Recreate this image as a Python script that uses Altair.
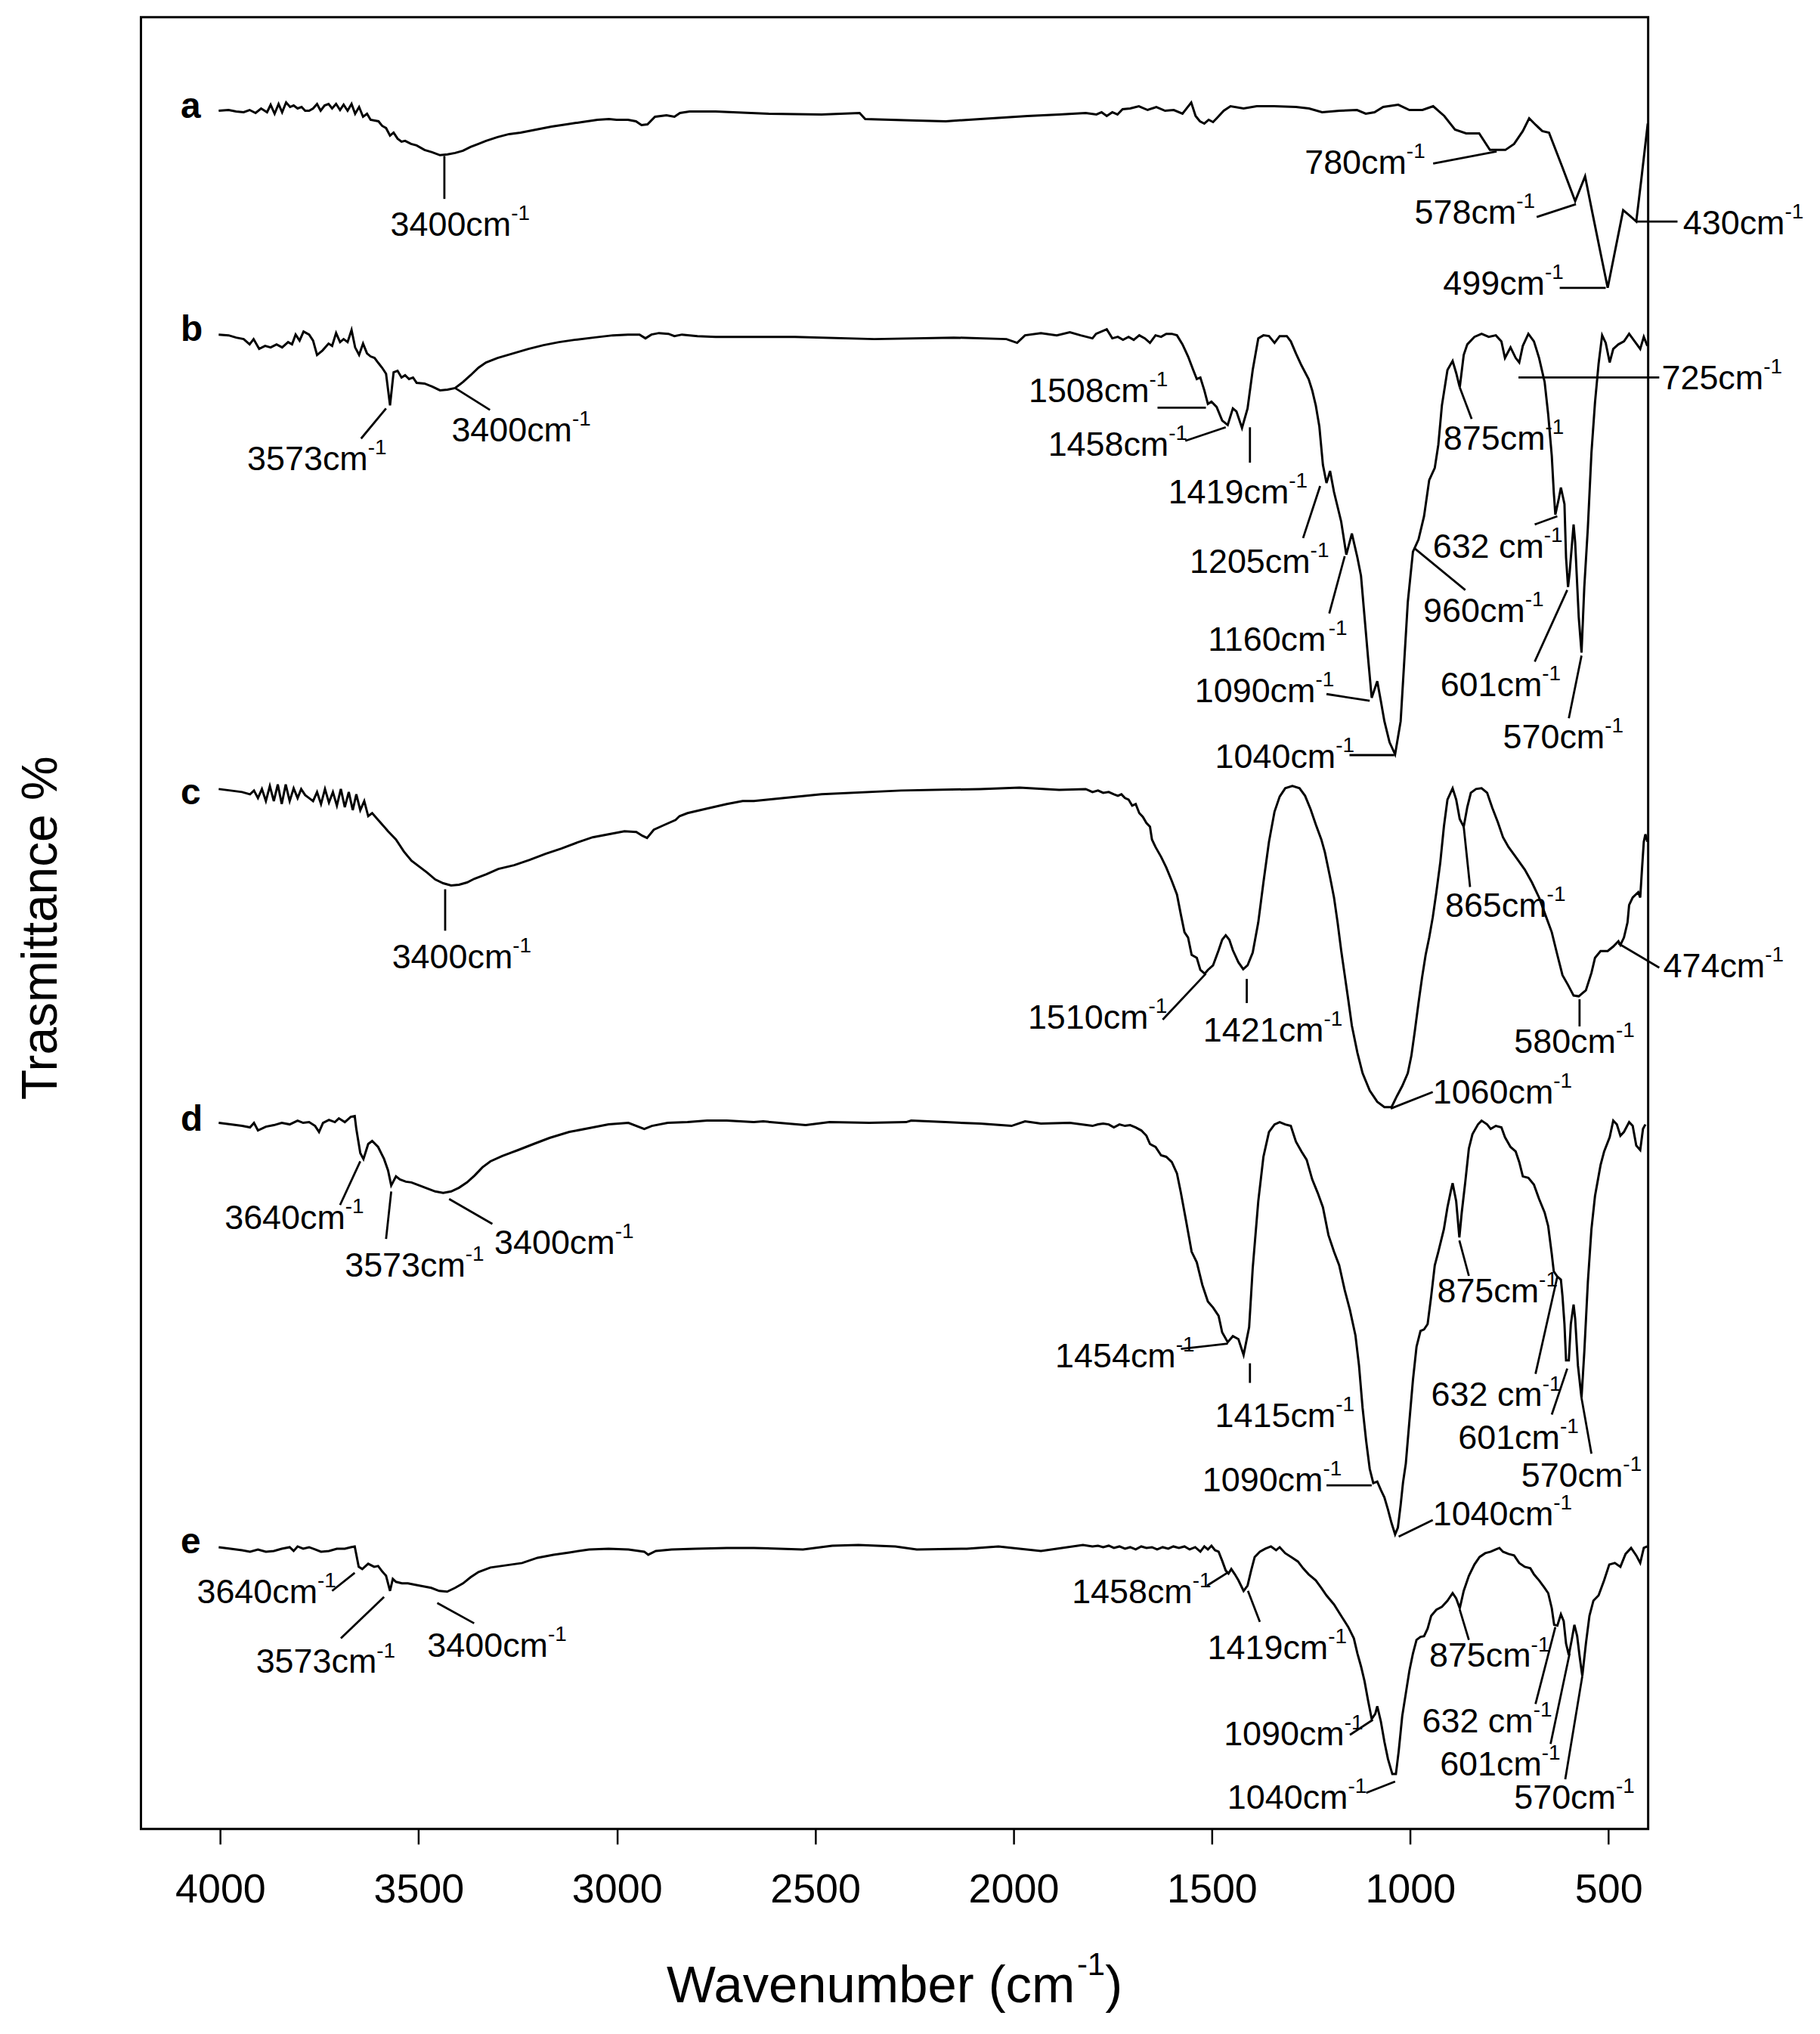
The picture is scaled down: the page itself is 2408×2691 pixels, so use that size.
import altair as alt
import pandas as pd

FONT = "Liberation Sans"

# wavenumber (cm-1), transmittance (arbitrary offset units)
SPEC_A = [(4004,2280),(3979,2281),(3960,2279),(3941,2278),(3926,2281),(3911,2277),(3897,2283),(3882,2278),(3873,2288),(3863,2276),(3853,2289),(3844,2278),(3834,2291),(3824,2285),(3815,2287),(3805,2283),(3795,2285),(3786,2280),(3776,2280),(3766,2283),(3756,2289),(3747,2280),(3737,2287),(3727,2289),(3718,2283),(3708,2289),(3698,2281),(3689,2288),(3679,2280),(3669,2289),(3660,2276),(3650,2285),(3640,2272),(3630,2276),(3621,2268),(3601,2266),(3592,2260),(3582,2257),(3572,2247),(3563,2251),(3553,2243),(3543,2239),(3534,2240),(3519,2236),(3505,2234),(3485,2228),(3466,2225),(3446,2221),(3427,2222),(3408,2224),(3388,2227),(3369,2232),(3349,2236),(3330,2240),(3301,2245),(3272,2249),(3243,2251),(3204,2255),(3165,2259),(3127,2262),(3088,2265),(3049,2268),(3020,2269),(3001,2268),(2972,2268),(2952,2266),(2938,2261),(2923,2262),(2904,2272),(2875,2274),(2855,2272),(2841,2277),(2817,2279),(2778,2279),(2751,2279),(2617,2276),(2484,2275),(2388,2277),(2374,2269),(2244,2267),(2171,2266),(2084,2269),(1965,2273),(1885,2275),(1818,2277),(1791,2275),(1778,2278),(1765,2273),(1751,2278),(1738,2275),(1725,2282),(1706,2283),(1684,2286),(1662,2281),(1640,2285),(1618,2280),(1596,2281),(1574,2276),(1552,2291),(1541,2273),(1530,2266),(1519,2263),(1508,2268),(1497,2265),(1486,2271),(1470,2280),(1453,2286),(1420,2283),(1387,2286),(1343,2286),(1288,2285),(1255,2283),(1222,2278),(1178,2280),(1134,2281),(1112,2276),(1090,2278),(1068,2285),(1030,2288),(1002,2281),(969,2281),(942,2286),(914,2273),(887,2255),(859,2250),(826,2250),(799,2228),(760,2228),(738,2236),(716,2253),(700,2270),(683,2261),(667,2253),(650,2251),(617,2206),(584,2160),(559,2193),(540,2143),(518,2086),(502,2045),(485,2090),(463,2148),(447,2141),(430,2133),(417,2190),(401,2263)]

SPEC_B = [(4004,1983),(3979,1982),(3960,1979),(3941,1977),(3926,1970),(3916,1977),(3902,1964),(3887,1968),(3873,1966),(3858,1970),(3844,1966),(3829,1973),(3819,1970),(3810,1983),(3800,1975),(3790,1987),(3776,1983),(3766,1975),(3756,1956),(3742,1962),(3727,1971),(3718,1968),(3708,1985),(3698,1973),(3689,1977),(3679,1973),(3669,1989),(3660,1966),(3650,1956),(3640,1971),(3630,1958),(3621,1954),(3611,1952),(3601,1945),(3592,1939),(3582,1931),(3572,1889),(3563,1933),(3553,1935),(3543,1926),(3534,1929),(3524,1924),(3514,1926),(3505,1919),(3485,1918),(3466,1914),(3446,1909),(3427,1910),(3408,1912),(3388,1920),(3369,1929),(3349,1939),(3330,1946),(3301,1952),(3262,1958),(3223,1964),(3185,1969),(3146,1973),(3107,1976),(3059,1979),(3010,1982),(2972,1983),(2943,1983),(2928,1978),(2913,1983),(2894,1985),(2870,1984),(2855,1981),(2836,1983),(2797,1981),(2751,1980),(2551,1980),(2351,1977),(2151,1979),(2018,1977),(1991,1972),(1971,1982),(1931,1985),(1891,1982),(1858,1986),(1831,1982),(1801,1978),(1792,1984),(1765,1990),(1751,1978),(1737,1980),(1724,1976),(1710,1980),(1697,1976),(1683,1982),(1669,1978),(1656,1972),(1642,1982),(1628,1980),(1615,1984),(1601,1984),(1588,1982),(1574,1970),(1560,1954),(1547,1936),(1538,1924),(1529,1926),(1519,1909),(1510,1891),(1501,1894),(1488,1887),(1474,1869),(1460,1863),(1447,1885),(1438,1881),(1424,1859),(1410,1885),(1397,1936),(1383,1978),(1370,1982),(1356,1981),(1342,1972),(1329,1981),(1311,1981),(1301,1974),(1288,1958),(1274,1942),(1256,1924),(1247,1909),(1238,1889),(1229,1861),(1220,1810),(1211,1786),(1202,1802),(1192,1774),(1174,1735),(1161,1691),(1147,1719),(1133,1687),(1124,1663),(1115,1608),(1106,1553),(1097,1501),(1083,1523),(1074,1497),(1065,1470),(1052,1442),(1038,1426),(1024,1470),(1015,1549),(1006,1628),(993,1695),(979,1711),(965,1742),(952,1790),(938,1806),(929,1837),(920,1889),(906,1936),(893,1948),(884,1932),(875,1913),(865,1956),(856,1970),(838,1980),(820,1984),(802,1980),(784,1982),(770,1974),(761,1952),(747,1966),(734,1952),(725,1946),(716,1968),(702,1984),(688,1974),(675,1952),(661,1920),(652,1877),(643,1822),(638,1774),(634,1744),(625,1766),(620,1780),(611,1758),(607,1687),(602,1648),(598,1667),(588,1731),(584,1707),(575,1608),(568,1561),(561,1648),(552,1727),(543,1826),(534,1893),(525,1944),(516,1982),(507,1972),(497,1946),(488,1964),(475,1970),(461,1974),(448,1984),(434,1974),(420,1964),(411,1980),(402,1968)]

SPEC_C = [(4004,1380),(3974,1378),(3945,1376),(3925,1373),(3915,1378),(3905,1368),(3895,1380),(3885,1364),(3875,1384),(3865,1364),(3855,1386),(3845,1360),(3835,1386),(3825,1364),(3815,1381),(3805,1368),(3796,1380),(3786,1372),(3776,1368),(3766,1364),(3756,1376),(3746,1360),(3736,1380),(3726,1362),(3716,1376),(3706,1358),(3696,1380),(3686,1356),(3676,1376),(3666,1352),(3657,1373),(3647,1352),(3637,1364),(3627,1344),(3617,1348),(3597,1336),(3577,1324),(3557,1313),(3537,1297),(3518,1285),(3498,1277),(3478,1269),(3458,1260),(3438,1255),(3418,1252),(3398,1253),(3378,1256),(3359,1261),(3329,1267),(3299,1274),(3259,1279),(3220,1286),(3180,1294),(3140,1301),(3100,1309),(3061,1316),(3021,1320),(2981,1324),(2951,1323),(2936,1318),(2924,1315),(2907,1326),(2882,1332),(2852,1339),(2842,1344),(2822,1348),(2773,1354),(2723,1360),(2683,1364),(2655,1364),(2617,1366),(2484,1373),(2284,1378),(2084,1380),(1985,1382),(1885,1379),(1818,1380),(1801,1376),(1787,1378),(1774,1375),(1760,1376),(1747,1373),(1737,1371),(1728,1373),(1719,1368),(1710,1366),(1701,1358),(1692,1360),(1683,1348),(1674,1343),(1665,1335),(1656,1330),(1651,1313),(1642,1303),(1628,1290),(1615,1276),(1601,1258),(1588,1240),(1578,1213),(1569,1190),(1560,1183),(1551,1160),(1538,1156),(1529,1140),(1518,1135),(1510,1140),(1497,1146),(1483,1166),(1474,1180),(1465,1186),(1456,1180),(1447,1166),(1433,1150),(1421,1141),(1410,1146),(1397,1163),(1383,1203),(1370,1256),(1356,1310),(1342,1350),(1329,1370),(1315,1381),(1297,1384),(1279,1381),(1265,1371),(1251,1353),(1238,1333),(1224,1313),(1215,1296),(1202,1263),(1192,1236),(1183,1203),(1174,1166),(1165,1133),(1156,1100),(1147,1066),(1133,1030),(1120,1003),(1102,980),(1083,965),(1065,958),(1047,958),(1033,973),(1020,986),(1006,1003),(997,1026),(988,1060),(979,1096),(970,1130),(961,1160),(952,1183),(943,1210),(934,1243),(924,1283),(915,1330),(906,1366),(893,1381),(884,1366),(875,1340),(865,1330),(856,1356),(847,1375),(834,1380),(820,1381),(806,1375),(793,1355),(779,1336),(766,1316),(752,1303),(734,1290),(711,1273),(693,1256),(675,1236),(657,1210),(643,1190),(629,1160),(616,1133),(602,1120),(588,1106),(575,1105),(557,1113),(543,1136),(534,1156),(520,1165),(502,1165),(488,1171),(475,1178),(470,1173),(461,1183),(452,1203),(448,1226),(439,1236),(425,1243),(420,1236),(416,1270),(411,1310),(407,1320),(402,1310)]

SPEC_D = [(4004,937),(3974,935),(3945,933),(3925,931),(3915,937),(3905,927),(3885,932),(3865,934),(3845,937),(3825,935),(3805,940),(3791,937),(3776,938),(3761,933),(3751,925),(3741,937),(3726,941),(3711,938),(3701,943),(3686,938),(3671,945),(3661,946),(3657,929),(3647,897),(3639,889),(3627,909),(3617,913),(3602,905),(3587,889),(3577,874),(3569,854),(3557,866),(3547,862),(3532,859),(3518,858),(3498,854),(3478,850),(3458,846),(3438,844),(3418,846),(3398,851),(3378,858),(3359,867),(3339,878),(3319,886),(3289,893),(3249,901),(3210,909),(3170,917),(3120,925),(3070,930),(3021,935),(2971,937),(2931,929),(2912,933),(2872,937),(2822,938),(2773,940),(2723,940),(2655,938),(2631,939),(2524,934),(2464,938),(2364,937),(2271,938),(2258,940),(2171,938),(2084,936),(2005,933),(1971,939),(1931,936),(1858,937),(1801,933),(1787,935),(1774,936),(1760,935),(1747,931),(1733,935),(1719,933),(1706,934),(1692,931),(1678,927),(1665,920),(1656,909),(1642,905),(1628,894),(1615,892),(1601,885),(1588,870),(1578,844),(1565,807),(1551,766),(1538,752),(1524,722),(1510,700),(1497,692),(1483,681),(1474,659),(1460,646),(1447,654),(1433,650),(1420,629),(1406,666),(1397,744),(1383,833),(1370,892),(1356,925),(1342,935),(1329,938),(1315,935),(1301,933),(1288,912),(1274,899),(1261,888),(1247,862),(1233,844),(1220,825),(1206,788),(1192,766),(1179,748),(1165,715),(1152,689),(1138,655),(1129,615),(1120,559),(1111,515),(1102,478),(1093,459),(1083,461),(1074,450),(1065,440),(1056,424),(1047,406),(1038,391),(1031,400),(1024,430),(1018,460),(1011,485),(1002,541),(993,596),(984,640),(974,661),(965,663),(956,670),(947,707),(938,748),(929,766),(915,796),(906,825),(897,848),(893,857),(884,833),(876,785),(870,818),(861,859),(852,903),(843,922),(829,935),(820,940),(806,935),(797,929),(784,933),(770,931),(761,918),(747,905),(734,899),(725,885),(716,866),(702,864),(688,855),(675,836),(661,818),(652,800),(643,763),(638,740),(629,733),(620,729),(616,707),(611,670),(607,622),(600,622),(595,670),(588,696),(584,677),(577,615),(568,572),(561,633),(552,726),(543,796),(534,840),(520,881),(511,899),(497,918),(488,940),(479,935),(470,920),(461,925),(448,938),(439,933),(430,907),(420,901),(413,929),(407,935)]

SPEC_E = [(4004,374),(3974,372),(3945,370),(3925,368),(3905,371),(3885,368),(3865,369),(3845,372),(3825,374),(3815,369),(3805,375),(3791,372),(3776,374),(3761,371),(3746,368),(3726,369),(3706,372),(3686,372),(3671,374),(3661,375),(3651,348),(3642,345),(3627,352),(3612,348),(3602,349),(3592,342),(3582,336),(3572,316),(3565,332),(3557,328),(3542,326),(3527,326),(3508,324),(3488,322),(3468,320),(3448,316),(3428,315),(3408,320),(3388,326),(3369,334),(3349,341),(3319,347),(3279,350),(3239,353),(3200,360),(3160,364),(3120,367),(3070,371),(3021,372),(2971,371),(2931,368),(2921,364),(2902,369),(2862,371),(2802,372),(2723,373),(2655,373),(2531,371),(2457,376),(2391,377),(2298,375),(2244,371),(2118,372),(2038,375),(1931,369),(1825,377),(1801,375),(1787,376),(1774,374),(1760,376),(1747,373),(1733,375),(1719,372),(1706,374),(1692,371),(1678,375),(1665,373),(1651,374),(1638,371),(1624,374),(1610,372),(1597,375),(1583,373),(1569,375),(1556,371),(1542,374),(1529,368),(1519,375),(1510,371),(1501,376),(1492,370),(1483,368),(1474,356),(1465,343),(1458,339),(1451,345),(1442,338),(1433,330),(1420,316),(1410,323),(1401,343),(1392,361),(1379,368),(1365,372),(1351,375),(1338,370),(1329,374),(1315,366),(1297,360),(1283,355),(1270,346),(1256,338),(1238,330),(1224,320),(1211,310),(1192,298),(1174,283),(1156,268),(1142,253),(1133,233),(1124,216),(1115,196),(1106,170),(1097,146),(1088,153),(1083,163),(1074,143),(1065,116),(1056,93),(1045,73),(1036,73),(1029,103),(1020,150),(1011,180),(1002,210),(993,233),(984,251),(974,255),(965,256),(956,266),(947,283),(934,291),(920,295),(906,303),(893,313),(884,306),(875,293),(865,316),(852,336),(838,351),(825,361),(811,366),(797,368),(784,371),(775,373),(766,368),(752,365),(738,363),(725,353),(711,348),(697,346),(688,338),(675,330),(661,320),(652,313),(643,293),(637,271),(629,270),(620,285),(613,276),(607,246),(600,231),(593,250),(586,271),(579,256),(573,230),(566,203),(557,246),(548,283),(538,303),(525,310),(511,330),(498,351),(484,353),(470,348),(457,365),(443,373),(430,363),(420,353),(411,373),(402,375)]

# sample letters: (letter, wavenumber, transmittance of baseline)
LETTERS = [("a", 4100, 2270), ("b", 4100, 1975), ("c", 4100, 1360), ("d", 4100, 927), ("e", 4100, 366)]

# peak labels: (number text, left wavenumber, baseline transmittance)
PEAK_LABELS = [
    ("3400", 3571, 2114), ("780", 1266, 2196), ("578", 989, 2130), ("499", 917, 2036), ("430", 312, 2116),
    ("3573", 3932, 1803), ("3400", 3417, 1841), ("1508", 1962, 1893), ("1458", 1913, 1822), ("1419", 1610, 1759),
    ("1205", 1556, 1667), ("1160", 1510, 1563), ("1090", 1543, 1495), ("1040", 1492, 1408), ("875", 916, 1830),
    ("725", 366, 1910), ("632 ", 943, 1687), ("960", 967, 1602), ("601", 924, 1503), ("570", 766, 1434),
    ("3400", 3567, 1142), ("1510", 1964, 1062), ("1421", 1522, 1045), ("1060", 943, 963), ("865", 912, 1210),
    ("580", 738, 1030), ("474", 362, 1130),
    ("3640", 3989, 796), ("3573", 3686, 733), ("3400", 3309, 763), ("1454", 1895, 613), ("1415", 1492, 533),
    ("1090", 1524, 448), ("1040", 943, 403), ("875", 932, 699), ("632 ", 947, 561), ("601", 879, 504), ("570", 720, 454),
    ("3640", 4059, 300), ("3573", 3910, 207), ("3400", 3478, 229), ("1458", 1853, 300), ("1419", 1511, 226),
    ("1090", 1470, 111), ("1040", 1461, 27), ("875", 952, 215), ("632 ", 970, 128), ("601", 925, 71), ("570", 738, 27),
]

# leader lines: (wn1, T1, wn2, T2)
LEADERS = [
    (3435, 2220, 3435, 2163), (942, 2210, 782, 2226), (681, 2139, 582, 2156), (623, 2045, 507, 2045), (430, 2133, 326, 2133),
    (3582, 1885, 3645, 1845), (3408, 1912, 3320, 1883), (1637, 1886, 1515, 1886), (1567, 1842, 1465, 1860),
    (1404, 1860, 1404, 1813), (1227, 1782, 1270, 1713), (1165, 1689, 1204, 1613), (1211, 1506, 1102, 1497),
    (1153, 1425, 1040, 1425), (988, 1699, 861, 1644), (875, 1913, 845, 1871), (727, 1926, 372, 1926),
    (686, 1731, 629, 1742), (686, 1549, 604, 1644), (600, 1474, 568, 1557),
    (3433, 1247, 3433, 1192), (1624, 1074, 1515, 1135), (1412, 1128, 1412, 1096), (1049, 956, 943, 978),
    (865, 1330, 849, 1250), (573, 1101, 573, 1065), (475, 1175, 372, 1143),
    (3647, 886, 3698, 828), (3569, 846, 3582, 783), (3423, 836, 3314, 803), (1578, 637, 1460, 644),
    (1404, 618, 1404, 592), (1211, 456, 1097, 456), (1029, 388, 943, 410), (876, 781, 852, 734),
    (684, 604, 629, 733), (643, 550, 604, 611), (543, 498, 568, 572),
    (3718, 316, 3661, 340), (3696, 253, 3587, 308), (3453, 300, 3360, 273), (1512, 323, 1458, 341),
    (1409, 316, 1379, 275), (1152, 125, 1094, 145), (1111, 48, 1038, 63), (875, 291, 852, 251),
    (684, 166, 634, 268), (646, 113, 598, 233), (609, 66, 566, 203),
]

TICKS = [4000, 3500, 3000, 2500, 2000, 1500, 1000, 500]
X_DOMAIN = [4200, 400]
Y_DOMAIN = [0, 2404]
W_PX, H_PX = 2000, 2404
PX_PER_WN = W_PX / (X_DOMAIN[0] - X_DOMAIN[1])

# Arial / Liberation Sans advance widths (em)
ADV = {"0": .556, "1": .556, "2": .556, "3": .556, "4": .556, "5": .556, "6": .556, "7": .556, "8": .556,
       "9": .556, "c": .5, "m": .833, " ": .278, "W": .944, "a": .556, "v": .5, "e": .556, "n": .556,
       "u": .556, "b": .556, "r": .333, "(": .333, ")": .333, "-": .333}


def tw(s, size):
    return sum(ADV[ch] for ch in s) * size


LBL_SIZE, SUP_SIZE = 45, 28

rows = []
for name, pts in [("a", SPEC_A), ("b", SPEC_B), ("c", SPEC_C), ("d", SPEC_D), ("e", SPEC_E)]:
    for i, (w, t) in enumerate(pts):
        rows.append({"sample": name, "i": i, "wn": w, "T": t})
spec_df = pd.DataFrame(rows)

lead_df = pd.DataFrame(LEADERS, columns=["wn", "T", "wn2", "T2"])

lab_rows, sup_rows = [], []
for num, w, t in PEAK_LABELS:
    main = num + "cm"
    lab_rows.append({"txt": main, "wn": w, "T": t})
    sup_rows.append({"txt": "-1", "wn": w - tw(main, LBL_SIZE) / PX_PER_WN, "T": t})
lab_df = pd.DataFrame(lab_rows)
sup_df = pd.DataFrame(sup_rows)
let_df = pd.DataFrame(LETTERS, columns=["txt", "wn", "T"])

# x-axis title built from pieces (superscript)
T_SIZE, TS_SIZE = 69, 42
t_main, t_sup, t_end = "Wavenumber (cm", "-1", ")"
total = tw(t_main, T_SIZE) + tw(t_sup, TS_SIZE) + tw(t_end, T_SIZE)
center_wn = (X_DOMAIN[0] + X_DOMAIN[1]) / 2
start_wn = center_wn + (total / 2) / PX_PER_WN
j1 = start_wn - tw(t_main, T_SIZE) / PX_PER_WN
j2 = j1 - tw(t_sup, TS_SIZE) / PX_PER_WN
TITLE_T, TITLE_SUP_T = -230, -194
tmain_df = pd.DataFrame([{"txt": t_main, "wn": start_wn, "T": TITLE_T}, {"txt": t_end, "wn": j2, "T": TITLE_T}])
tsup_df = pd.DataFrame([{"txt": t_sup, "wn": j1, "T": TITLE_SUP_T}])

XS = alt.Scale(domain=X_DOMAIN, nice=False, zero=False)
YS = alt.Scale(domain=Y_DOMAIN, nice=False, zero=False)
XAX = alt.Axis(values=TICKS, title=None, grid=False, domain=False, ticks=True, tickSize=20, tickWidth=2.5,
               tickColor="black", labelFont=FONT, labelFontSize=54, labelColor="black", labelPadding=34,
               labelFlush=False, labelOverlap=False, format="d")
YAX = alt.Axis(title="Trasmittance %", labels=False, ticks=False, domain=False, grid=False,
               titleFont=FONT, titleFontSize=66, titleFontWeight="normal", titleColor="black",
               titleAngle=270, titleX=-112, titleY=1208, titleAlign="center", titleBaseline="alphabetic")


def X(f):
    return alt.X(f, type="quantitative", scale=XS, axis=XAX)


def Y(f):
    return alt.Y(f, type="quantitative", scale=YS, axis=YAX)


lines = alt.Chart(spec_df).mark_line(color="black", strokeWidth=3).encode(
    x=X("wn"), y=Y("T"), detail="sample:N", order="i:Q")

leaders = alt.Chart(lead_df).mark_rule(color="black", strokeWidth=2.8).encode(
    x=X("wn"), y=Y("T"), x2="wn2:Q", y2="T2:Q")

labels = alt.Chart(lab_df).mark_text(align="left", baseline="alphabetic", font=FONT, fontSize=LBL_SIZE,
                                      color="black").encode(x=X("wn"), y=Y("T"), text="txt:N")
sups = alt.Chart(sup_df).mark_text(align="left", baseline="alphabetic", font=FONT, fontSize=SUP_SIZE,
                                    color="black", dy=-21).encode(x=X("wn"), y=Y("T"), text="txt:N")
letters = alt.Chart(let_df).mark_text(align="left", baseline="alphabetic", font=FONT, fontSize=48,
                                       fontWeight="bold", color="black").encode(x=X("wn"), y=Y("T"), text="txt:N")
tmain = alt.Chart(tmain_df).mark_text(align="left", baseline="alphabetic", font=FONT, fontSize=T_SIZE,
                                       color="black").encode(x=X("wn"), y=Y("T"), text="txt:N")
tsup = alt.Chart(tsup_df).mark_text(align="left", baseline="alphabetic", font=FONT, fontSize=TS_SIZE,
                                     color="black").encode(x=X("wn"), y=Y("T"), text="txt:N")

chart = alt.layer(lines, leaders, labels, sups, letters, tmain, tsup).properties(
    width=W_PX, height=H_PX,
    padding={"left": 179, "top": 11, "right": 220, "bottom": 260},
    autosize=alt.AutoSizeParams(type="none"),
    background="white",
).configure_view(stroke="black", strokeWidth=3)

chart.save("out.html", embed_options={"renderer": "svg", "actions": False})
